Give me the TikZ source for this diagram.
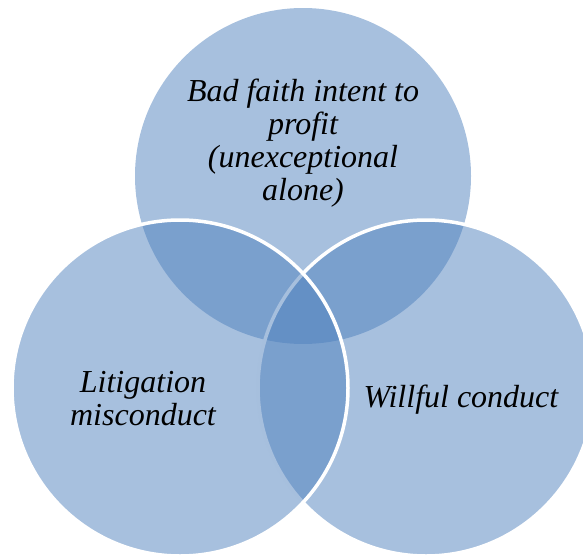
\documentclass[tikz,border=0pt]{standalone}
\usepackage{fontspec}
\setmainfont{Liberation Serif}
\definecolor{vennblue}{HTML}{4F81BD}
\begin{document}
\begin{tikzpicture}[x=1pt,y=-1pt,
  venn/.style={circle,minimum size=336pt,inner sep=0pt,outer sep=0pt,fill=vennblue,fill opacity=0.5},
  vennline/.style={venn,draw=white,line width=3.5pt},
  lbl/.style={align=center,font=\fontsize{32}{33}\selectfont\itshape,text=black,inner sep=0pt}]
\useasboundingbox (0,0) rectangle (583,554);
\clip (0,0) rectangle (583,554);
\node[venn] (top) at (303,176) {};
\node[vennline] (right) at (426,388) {};
\node[vennline] (left) at (180,388) {};
\node[lbl] (ttop) at (303,143) {Bad faith intent to\\profit\\(unexceptional\\alone)};
\node[lbl] (tleft) at (143,399) {Litigation\\misconduct};
\node[lbl] (tright) at (461,400) {Willful conduct};
\end{tikzpicture}
\end{document}
